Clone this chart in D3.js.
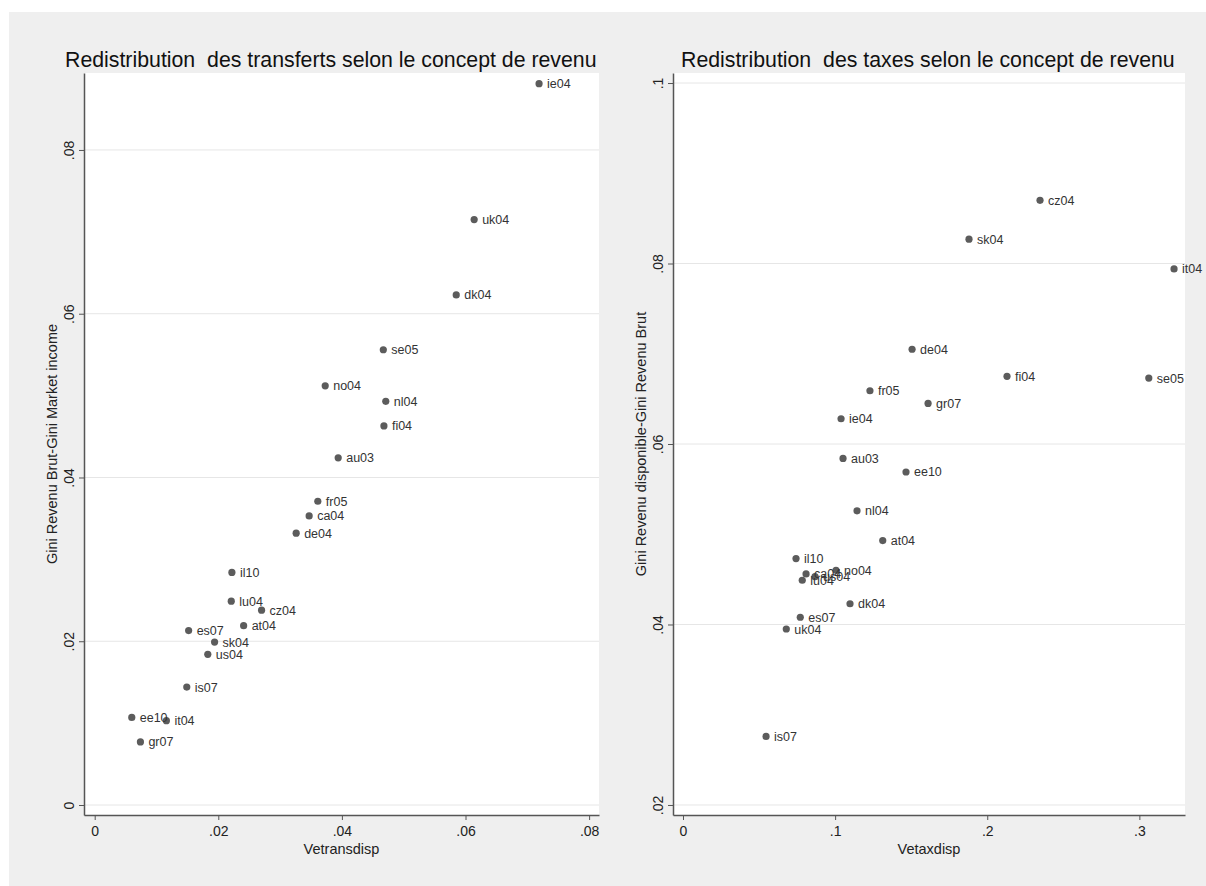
<!DOCTYPE html>
<html><head><meta charset="utf-8">
<script src="https://cdn.jsdelivr.net/npm/d3@7"></script>
<style>body{margin:0;background:#fff}svg{display:block;font-family:"Liberation Sans",Arial,sans-serif}</style>
</head><body><svg id="c" width="1206" height="886"></svg>
<script>
// ---- data: left panel (transferts)
const transCountries = ["ie04","uk04","dk04","se05","no04","nl04","fi04","au03","fr05","ca04","de04","il10","lu04","cz04","at04","es07","sk04","us04","is07","ee10","it04","gr07"];
const transX = [0.0719,0.0614,0.0585,0.0467,0.0373,0.0471,0.0468,0.0394,0.0361,0.0347,0.0326,0.0222,0.0221,0.0270,0.0241,0.0152,0.0194,0.0183,0.0149,0.0060,0.0116,0.0074];
const transY = [0.0881,0.0715,0.0623,0.0556,0.0512,0.0493,0.0463,0.0424,0.0371,0.0353,0.0332,0.0284,0.0249,0.0238,0.0219,0.0213,0.0199,0.0184,0.0144,0.0107,0.0103,0.0077];
// ---- data: right panel (taxes)
const taxCountries = ["cz04","sk04","it04","de04","fi04","se05","fr05","gr07","ie04","au03","ee10","nl04","at04","il10","no04","ca04","us04","lu04","dk04","es07","uk04","is07"];
const taxX = [0.2347,0.1880,0.3228,0.1506,0.2130,0.3062,0.1229,0.1611,0.1039,0.1052,0.1466,0.1144,0.1313,0.0743,0.1006,0.0809,0.0868,0.0784,0.1098,0.0771,0.0679,0.0546];
const taxY = [0.0870,0.0827,0.0794,0.0705,0.0675,0.0673,0.0659,0.0645,0.0628,0.0584,0.0569,0.0526,0.0493,0.0473,0.0460,0.0456,0.0453,0.0449,0.0423,0.0408,0.0395,0.0276];
// ---- ticks
const transXTicks = [0,0.02,0.04,0.06,0.08];
const transXTickLabels = ["0",".02",".04",".06",".08"];
const transYTicks = [0,0.02,0.04,0.06,0.08];
const transYTickLabels = ["0",".02",".04",".06",".08"];
const taxXTicks = [0,0.1,0.2,0.3];
const taxXTickLabels = ["0",".1",".2",".3"];
const taxYTicks = [0.02,0.04,0.06,0.08,0.1];
const taxYTickLabels = [".02",".04",".06",".08",".1"];
// ---- texts
const titles = ["Redistribution  des transferts selon le concept de revenu","Redistribution  des taxes selon le concept de revenu"];
const xTitles = ["Vetransdisp","Vetaxdisp"];
const yTitles = ["Gini Revenu Brut-Gini Market income","Gini Revenu disponible-Gini Revenu Brut"];

const svg = d3.select("#c");
svg.append("rect").attr("x",9).attr("y",12).attr("width",1197).attr("height",874).attr("fill","#efefef");

const panels = [
  {names:transCountries, xs:transX, ys:transY, xd:[-0.00173,0.0816], yd:[-0.00122,0.0894],
   x0:84, x1:599, xt:transXTicks, xl:transXTickLabels, yt:transYTicks, yl:transYTickLabels, titleX:65},
  {names:taxCountries, xs:taxX, ys:taxY, xd:[-0.00657,0.33], yd:[0.01889,0.10111],
   x0:673, x1:1185, xt:taxXTicks, xl:taxXTickLabels, yt:taxYTicks, yl:taxYTickLabels, titleX:681}
];
const plotTop = 73, plotBottom = 815;

panels.forEach((p,i)=>{
  const x = d3.scaleLinear().domain(p.xd).range([p.x0,p.x1]);
  const y = d3.scaleLinear().domain(p.yd).range([plotBottom,plotTop]);
  const g = svg.append("g");
  g.append("rect").attr("x",p.x0).attr("y",plotTop).attr("width",p.x1-p.x0).attr("height",plotBottom-plotTop).attr("fill","#fff");
  // grid
  g.selectAll(".grid").data(p.yt).join("line")
    .attr("x1",p.x0).attr("x2",p.x1).attr("y1",d=>y(d)).attr("y2",d=>y(d))
    .attr("stroke","#e6e6e6").attr("stroke-width",1);
  // x axis
  const xa = g.append("g").attr("transform",`translate(0,${plotBottom})`)
    .call(d3.axisBottom(x).tickValues(p.xt).tickFormat((d,k)=>p.xl[k]).tickSize(5).tickSizeOuter(0));
  xa.select(".domain").attr("stroke","#555").attr("stroke-width",1.5);
  xa.selectAll(".tick line").attr("stroke","#555");
  xa.selectAll(".tick text").attr("font-size",14).attr("fill","#222").attr("y",11).attr("dy","0.71em").attr("font-family","Liberation Sans, Arial, sans-serif");
  // y axis
  const ya = g.append("g").attr("transform",`translate(${p.x0},0)`)
    .call(d3.axisLeft(y).tickValues(p.yt).tickFormat((d,k)=>p.yl[k]).tickSize(5).tickSizeOuter(0));
  ya.select(".domain").attr("stroke","#555").attr("stroke-width",1.5);
  ya.selectAll(".tick line").attr("stroke","#555");
  ya.selectAll(".tick text").attr("font-size",14).attr("fill","#222").attr("font-family","Liberation Sans, Arial, sans-serif")
    .attr("x",0).attr("dy",0).attr("text-anchor","middle").attr("transform","translate(-10,0) rotate(-90)");
  // points
  const data = p.names.map((n,k)=>({n, vx:p.xs[k], vy:p.ys[k]}));
  g.selectAll("circle.pt").data(data).join("circle")
    .attr("cx",d=>x(d.vx)).attr("cy",d=>y(d.vy)).attr("r",3.6).attr("fill","#5c5c5c");
  g.selectAll("text.lbl").data(data).join("text")
    .attr("x",d=>x(d.vx)+8).attr("y",d=>y(d.vy)).attr("dy","0.36em")
    .attr("font-size",12.5).attr("fill","#333").text(d=>d.n);
  // titles
  svg.append("text").attr("x",p.titleX).attr("y",67).attr("font-size",21.3).attr("fill","#111")
    .style("white-space","pre").attr("xml:space","preserve").text(titles[i]);
  svg.append("text").attr("x",(p.x0+p.x1)/2).attr("y",854).attr("text-anchor","middle").attr("font-size",14.5).attr("fill","#222").text(xTitles[i]);
  svg.append("text").attr("transform",`translate(${p.x0-27},${(plotTop+plotBottom)/2}) rotate(-90)`).attr("text-anchor","middle")
    .attr("font-size",14.5).attr("fill","#222").text(yTitles[i]);
});
</script></body></html>
